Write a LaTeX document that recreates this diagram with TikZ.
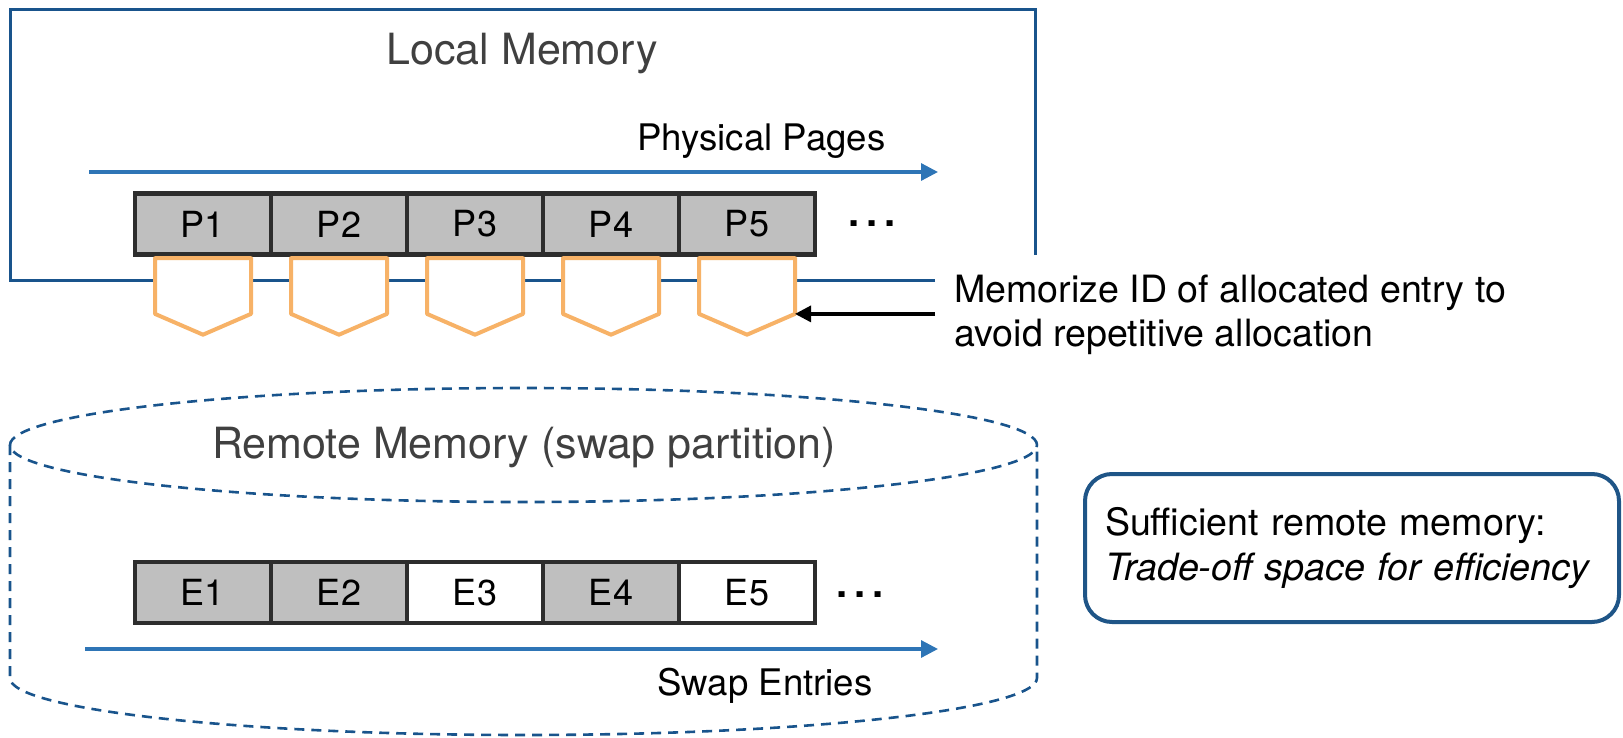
\documentclass[tikz,border=0pt]{standalone}
\usepackage{fontspec}
\setmainfont{TeX Gyre Heros}
\usetikzlibrary{arrows.meta}

\definecolor{frameblue}{RGB}{25,84,140}
\definecolor{arrowblue}{RGB}{46,117,182}
\definecolor{cellgray}{RGB}{191,191,191}
\definecolor{celledge}{RGB}{45,45,45}
\definecolor{tagorange}{RGB}{247,178,103}
\definecolor{titlegray}{RGB}{64,64,64}
\definecolor{noteblue}{RGB}{31,85,135}

\newcommand{\moredots}{.\hspace{3.5pt}.\hspace{3.5pt}.}

\begin{document}
\begin{tikzpicture}[x=0.5pt, y=0.5pt,
  localframe/.style={draw=frameblue, line width=1.5pt},
  cyl/.style={draw=frameblue, line width=1.3pt, dash pattern=on 5pt off 3.5pt},
  flow/.style={draw=arrowblue, line width=1.6pt, -{Triangle[length=8.5pt,width=8.5pt]}},
  memoarrow/.style={draw=black, line width=1.6pt, -{Triangle[length=8pt,width=8pt]}},
  slot/.style={draw=celledge, line width=2.2pt, minimum width=68pt, minimum height=30.5pt,
    inner sep=0pt, font=\fontsize{18}{22}\selectfont},
  usedslot/.style={slot, fill=cellgray},
  freeslot/.style={slot, fill=white},
  entrytag/.style={draw=tagorange, fill=white, line width=2pt, line join=round},
  heading/.style={font=\fontsize{21.5}{26}\selectfont, text=titlegray, inner sep=0pt},
  caption/.style={font=\fontsize{18.3}{22}\selectfont, inner sep=0pt},
  remark/.style={font=\fontsize{18.8}{22}\selectfont, inner sep=0pt},
  ellip/.style={font=\fontsize{20}{24}\selectfont\bfseries, inner sep=0pt},
]
\useasboundingbox (0,0) rectangle (1623,-738);

% remote memory drawn as a dashed cylinder
\draw[cyl] (10,-445) -- (10,-678)
  arc[start angle=180, end angle=360, x radius=513.5, y radius=57] -- (1037,-445);
\draw[cyl] (523.5,-445) ellipse[x radius=513.5, y radius=57];

% local memory frame, left open at the lower right corner for the note
\draw[localframe] (935,-280) -- (10,-280) -- (10,-10) -- (1035,-10) -- (1035,-255);

\node[heading, anchor=base] (localtitle) at (522,-65) {Local Memory};
\node[caption, anchor=base] (pptitle) at (761.5,-150.7) {Physical Pages};
\coordinate (pp-from) at (89,-172);
\coordinate (pp-to) at (938,-172);
\draw[flow] (pp-from) -- (pp-to);

% physical pages
\foreach \i/\x in {1/203,2/339,3/475,4/611,5/747} {
  \node[usedslot] (p\i) at (\x,-224) {P\i};
}
\node[ellip] (pdots) at (872,-224) {\moredots};

% tags holding the ID of the allocated swap entry
\foreach \i in {1,...,5} {
  \draw[entrytag] ([shift={(-48,-1.5)}]p\i.south) -- ([shift={(48,-1.5)}]p\i.south)
    -- ([shift={(48,-57.2)}]p\i.south) -- ([shift={(0,-78)}]p\i.south)
    -- ([shift={(-48,-57.2)}]p\i.south) -- cycle;
  \coordinate (tip\i) at ([shift={(48,-57.2)}]p\i.south);
}

% the base anchor of this two-line node sits on its last line
\node[remark, anchor=base west, align=left, inner xsep=9.5pt] (memo) at (935,-346)
  {Memorize ID of allocated entry to\\avoid repetitive allocation};
\draw[memoarrow] (memo.west |- tip5) -- (tip5);

% swap entries in remote memory
\node[heading, anchor=base] (remotetitle) at (524,-458) {Remote Memory (swap partition)};
\node[usedslot] (e1) at (203,-592.5) {E1};
\node[usedslot] (e2) at (339,-592.5) {E2};
\node[freeslot] (e3) at (475,-592.5) {E3};
\node[usedslot] (e4) at (611,-592.5) {E4};
\node[freeslot] (e5) at (747,-592.5) {E5};
\node[ellip] (edots) at (860,-595) {\moredots};

\coordinate (se-from) at (85,-649);
\coordinate (se-to) at (938,-649);
\draw[flow] (se-from) -- (se-to);
\node[caption, anchor=base] (setitle) at (765,-695) {Swap Entries};

% note
\node[draw=noteblue, line width=2pt, rounded corners=13.5pt, minimum width=267pt,
  minimum height=74pt, text width=247pt, align=left, inner sep=0pt,
  font=\fontsize{18.8}{22.5}\selectfont] (note) at (1352,-548)
  {Sufficient remote memory:\\\textit{Trade-off space for efficiency}};
\end{tikzpicture}
\end{document}
